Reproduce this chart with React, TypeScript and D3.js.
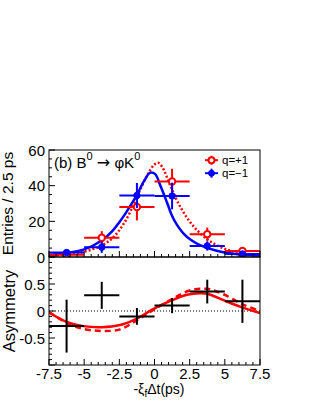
import React from 'react';
import * as d3 from 'd3';

// bin centres (ps), each bin is 2.5 ps wide
const binCenters = [-6.25, -3.75, -1.25, 1.25, 3.75, 6.25];
const binHalf = 1.25;

// q = +1 (red open circles)
const qPlus = [1.3, 10.8, 28, 42.3, 12.8, 3.4];
const qPlusErr = [1.3, 3.7, 7.5, 7.2, 3.7, 1.7];
// q = -1 (blue filled circles)
const qMinus = [2.5, 5.5, 34.5, 34.2, 6.2, 1.7];
const qMinusErr = [1.4, 3.2, 7, 7.5, 2.6, 1.4];

// asymmetry points
const asym = [-0.28, 0.29, -0.1, 0.1, 0.36, 0.18];
const asymErr = [0.49, 0.25, 0.155, 0.14, 0.22, 0.4];

// fit curves [dt, value]
const fitMinus: [number, number][] = [
  [-7.5, 1.1], [-6.25, 2.3], [-5, 4.3], [-3.75, 9.3], [-3, 14.5], [-2.5, 19.5],
  [-2, 25.2], [-1.25, 34.8], [-0.75, 42.5], [-0.3, 47.3], [0.05, 46.5], [0.4, 40.4],
  [0.87, 31], [1.22, 23.6], [1.6, 18], [2.05, 13.3], [2.6, 9.5], [3.23, 6.7],
  [4.42, 3.5], [5.6, 1.8], [7.5, 0.8],
];
const fitPlus: [number, number][] = [
  [-7.5, 0.8], [-6.25, 1.5], [-5, 3], [-3.87, 6], [-3, 10.5], [-2.2, 18.5],
  [-1.5, 29], [-1.03, 37.5], [-0.5, 46], [-0.05, 51.5], [0.25, 52.8], [0.55, 50.5],
  [1.1, 40.5], [1.8, 28.6], [2.76, 17.3], [3.94, 8.9], [5.13, 4.2], [6.3, 2], [7.5, 1],
];
const asymFit: [number, number][] = [
  [-7.5, -0.03], [-6.25, -0.2], [-5.06, -0.28], [-3.75, -0.3], [-2.45, -0.26],
  [-1.25, -0.14], [-0.2, 0.02], [1.25, 0.2], [2.3, 0.3], [3.23, 0.33], [3.75, 0.32],
  [4.9, 0.2], [6.08, 0.08], [7.5, -0.04],
];
const asymFitDash: [number, number][] = [
  [-7.5, -0.02], [-6.25, -0.22], [-5.06, -0.33], [-3.75, -0.37], [-2.45, -0.34],
  [-1.25, -0.17], [-0.2, 0.0], [1.25, 0.22], [2.5, 0.38], [3.75, 0.41], [4.9, 0.31],
  [6.3, 0.12], [7.5, 0.0],
];

const xTicks = [-7.5, -5, -2.5, 0, 2.5, 5, 7.5];
const xTickLabels = ['-7.5', '-5', '-2.5', '0', '2.5', '5', '7.5'];
const topTicks = [0, 20, 40, 60];
const botTicks = [-0.5, 0, 0.5];
const botTickLabels = ['-0.5', '0', '0.5'];
const legendLabels = ['q=+1', 'q=−1'];

const FONT = "'Liberation Sans', Arial, Helvetica, sans-serif";
const RED = '#ff0000';
const BLUE = '#0000ff';

export default function App() {
  const L = 49, R = 260, T = 150, M = 257, B = 365;
  const x = d3.scaleLinear().domain([-7.5, 7.5]).range([L, R]);
  const yTop = d3.scaleLinear().domain([0, 60]).range([M, T]);
  const yBot = d3.scaleLinear().domain([-1, 1]).range([B, M]);

  const lineTop = d3.line<[number, number]>()
    .x(d => x(d[0])).y(d => yTop(d[1])).curve(d3.curveCatmullRom);
  const lineBot = d3.line<[number, number]>()
    .x(d => x(d[0])).y(d => yBot(d[1])).curve(d3.curveCatmullRom);

  const xMinor = d3.range(-7.5, 7.51, 0.5);
  const topMinor = d3.range(0, 60.1, 5);
  const botMinor = d3.range(-1, 1.01, 0.1);

  const drawPoints = (vals: number[], errs: number[], color: string, open: boolean) =>
    binCenters.map((c, i) => (
      <g key={i} stroke={color} strokeWidth={2}>
        <line x1={x(c - binHalf)} x2={x(c + binHalf)} y1={yTop(vals[i])} y2={yTop(vals[i])} />
        <line x1={x(c)} x2={x(c)} y1={yTop(Math.max(0, vals[i] - errs[i]))} y2={yTop(vals[i] + errs[i])} />
        <circle cx={x(c)} cy={yTop(vals[i])} r={3.2} fill={open ? 'white' : color} strokeWidth={open ? 2 : 1} />
      </g>
    ));

  const legY = 160.2;
  const legStep = 13;

  return (
    <div style={{ position: 'absolute', left: 0, top: 0 }}>
      <svg width={312} height={403} style={{ display: 'block', background: 'white' }} fontFamily={FONT}>
        <defs>
          <clipPath id="clipTop"><rect x={L} y={T} width={R - L} height={M - T} /></clipPath>
          <clipPath id="clipBot"><rect x={L} y={M} width={R - L} height={B - M} /></clipPath>
        </defs>

        {/* top panel */}
        <g clipPath="url(#clipTop)">
          <path d={lineTop(fitPlus) || ''} fill="none" stroke={RED} strokeWidth={2.5} strokeDasharray="2,2" />
          <path d={lineTop(fitMinus) || ''} fill="none" stroke={BLUE} strokeWidth={2.5} />
          {drawPoints(qPlus, qPlusErr, RED, true)}
          {drawPoints(qMinus, qMinusErr, BLUE, false)}
        </g>

        {/* bottom panel */}
        <g clipPath="url(#clipBot)">
          <line x1={L} x2={R} y1={yBot(0)} y2={yBot(0)} stroke="black" strokeWidth={1} strokeDasharray="1,2" />
          <path d={lineBot(asymFitDash) || ''} fill="none" stroke={RED} strokeWidth={2.5} strokeDasharray="6,4" />
          <path d={lineBot(asymFit) || ''} fill="none" stroke={RED} strokeWidth={2.5} />
          {binCenters.map((c, i) => (
            <g key={i} stroke="black" strokeWidth={2}>
              <line x1={x(c - binHalf)} x2={x(c + binHalf)} y1={yBot(asym[i])} y2={yBot(asym[i])} />
              <line x1={x(c)} x2={x(c)} y1={yBot(asym[i] - asymErr[i])} y2={yBot(asym[i] + asymErr[i])} />
            </g>
          ))}
        </g>

        {/* frames */}
        <rect x={L} y={T} width={R - L} height={M - T} fill="none" stroke="black" strokeWidth={1} />
        <rect x={L} y={M} width={R - L} height={B - M} fill="none" stroke="black" strokeWidth={1} />

        {/* x ticks on both panels */}
        {xMinor.map((v, i) => {
          const major = xTicks.some(t => Math.abs(t - v) < 1e-6);
          const len = major ? 6 : 3;
          return (
            <g key={i} stroke="black" strokeWidth={1}>
              <line x1={x(v)} x2={x(v)} y1={M} y2={M - len} />
              <line x1={x(v)} x2={x(v)} y1={B} y2={B - len} />
            </g>
          );
        })}
        {topMinor.map((v, i) => {
          const major = topTicks.includes(v);
          return <line key={i} x1={L} x2={L + (major ? 6 : 3)} y1={yTop(v)} y2={yTop(v)} stroke="black" />;
        })}
        {botMinor.map((v, i) => {
          const major = Math.abs(v * 2 - Math.round(v * 2)) < 1e-6;
          return <line key={i} x1={L} x2={L + (major ? 6 : 3)} y1={yBot(v)} y2={yBot(v)} stroke="black" />;
        })}

        {/* tick labels */}
        {topTicks.map(v => (
          <text key={v} x={45} y={yTop(v) + 5.5} fontSize={15} textAnchor="end">{v}</text>
        ))}
        {botTicks.map((v, i) => (
          <text key={v} x={45} y={yBot(v) + 5.5} fontSize={15} textAnchor="end">{botTickLabels[i]}</text>
        ))}
        {xTicks.map((v, i) => (
          <text key={v} x={x(v)} y={379} fontSize={15} textAnchor="middle">{xTickLabels[i]}</text>
        ))}

        {/* axis titles */}
        <text transform={`translate(13,${(T + M) / 2}) rotate(-90)`} fontSize={15.5} textAnchor="middle">Entries / 2.5 ps</text>
        <text transform={`translate(15,${(M + B) / 2}) rotate(-90)`} fontSize={16.5} textAnchor="middle">Asymmetry</text>
        <text x={159} y={394} fontSize={14} textAnchor="middle">
          -ξ<tspan fontSize={10} dy={3}>f</tspan><tspan dy={-3}>Δt(ps)</tspan>
        </text>

        {/* panel label */}
        <text x={54} y={168.3} fontSize={15}>
          (b) B<tspan fontSize={11} dy={-8}>0</tspan>
          <tspan dy={8}> </tspan>
          <tspan fontFamily="'DejaVu Sans', sans-serif" fontSize={16}>→</tspan>
          <tspan> φK</tspan>
          <tspan fontSize={11} dy={-8}>0</tspan>
        </text>

        {/* legend */}
        {[RED, BLUE].map((c, i) => {
          const ly = legY + i * legStep;
          return (
            <g key={i}>
              <line x1={205} x2={218} y1={ly} y2={ly} stroke={c} strokeWidth={2} />
              <line x1={211.5} x2={211.5} y1={ly - 4.5} y2={ly + 4.5} stroke={c} strokeWidth={2} />
              <circle cx={211.5} cy={ly} r={3} fill={i === 0 ? 'white' : c} stroke={c} strokeWidth={i === 0 ? 2 : 1} />
              <text x={222} y={ly + 4} fontSize={11.5}>{legendLabels[i]}</text>
            </g>
          );
        })}
      </svg>
    </div>
  );
}
